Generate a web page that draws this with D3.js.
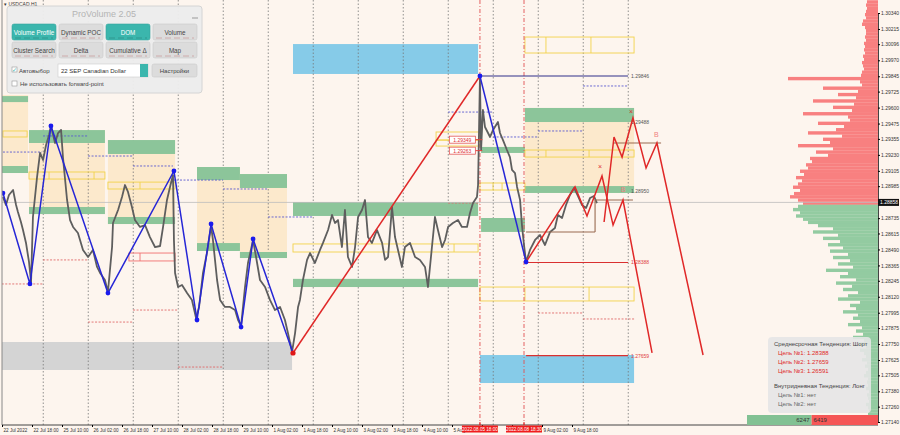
<!DOCTYPE html>
<html><head><meta charset="utf-8">
<script src="https://cdn.jsdelivr.net/npm/d3@7"></script>
<style>
body{margin:0;background:#fdf5ee;}
svg{display:block;font-family:"Liberation Sans",Arial,sans-serif;}
</style></head><body>
<svg id="c" width="900" height="435"></svg>
<script>
// ---------- DATA ----------
const yTicks = [1.30340,1.30215,1.30096,1.29970,1.29845,1.29725,1.29600,1.29475,1.29355,1.29230,1.29105,1.28985,1.28735,1.28615,1.28490,1.28365,1.28245,1.28120,1.27995,1.27875,1.27750,1.27625,1.27505,1.27380,1.27260,1.27140];
const xTickBars = [0,16,32,48,64,80,96,112,128,144,160,176,192,208,224,240,256,272,288,304];
const xTickLabels = ["22 Jul 2022","22 Jul 18:00","25 Jul 10:00","26 Jul 02:00","26 Jul 18:00","27 Jul 10:00","28 Jul 02:00","28 Jul 18:00","29 Jul 10:00","1 Aug 02:00","1 Aug 18:00","2 Aug 10:00","3 Aug 02:00","3 Aug 18:00","4 Aug 10:00","5 Aug 02:00","","","9 Aug 02:00","9 Aug 18:00"];
const dayLineBars = [22,46,70,94,118,142,166,190,214,238,262,286,310,334];
const eventBars = [254.9,278.4];
const eventLabels = ["2022.08.05 18:00","2022.08.08 18:30"];
const currentPrice = 1.28858;

const pricePath = [
[0.5,1.28900],[2.1,1.28838],[3.7,1.28916],[5.9,1.28955],[7.5,1.28838],[8.5,1.28783],[10.1,1.28705],[11.2,1.28642],[12.8,1.28541],[14.4,1.28392],[15.5,1.28235],[16.5,1.28744],[18.7,1.29057],[20.3,1.29245],[21.9,1.29190],[23.5,1.29307],[25.1,1.29386],[26.1,1.29456],[28.3,1.29323],[29.9,1.29401],[31.5,1.29425],[32.5,1.29213],[34.7,1.28877],[36.3,1.28720],[37.9,1.28666],[40.5,1.28619],[43.2,1.28486],[45.9,1.28431],[48.5,1.28486],[50.7,1.28353],[52.3,1.28306],[54.9,1.28251],[56.5,1.28157],[58.7,1.28509],[59.2,1.28697],[61.9,1.28799],[64.0,1.28900],[65.6,1.28994],[67.2,1.28940],[69.3,1.28822],[70.9,1.28720],[73.6,1.28666],[76.3,1.28681],[78.9,1.28587],[81.6,1.28509],[84.3,1.28517],[85.9,1.28666],[88.0,1.28877],[89.6,1.28979],[91.2,1.29072],[91.7,1.28564],[92.3,1.28306],[93.9,1.28196],[96.0,1.28212],[98.7,1.28149],[101.3,1.28095],[103.5,1.27954],[105.1,1.28040],[107.2,1.28306],[109.3,1.28462],[111.5,1.28673],[112.5,1.28564],[114.7,1.28251],[116.3,1.28095],[118.9,1.28040],[121.6,1.28040],[124.3,1.28016],[125.9,1.27938],[127.5,1.27891],[129.6,1.28196],[131.2,1.28384],[133.9,1.28564],[135.5,1.28431],[137.6,1.28251],[140.3,1.28196],[142.9,1.28095],[145.6,1.28016],[148.3,1.28040],[150.9,1.27938],[152.5,1.27836],[154.7,1.27688],[156.3,1.27836],[157.9,1.28040],[158.9,1.28095],[160.5,1.28251],[162.7,1.28408],[164.3,1.28462],[166.9,1.28384],[169.6,1.28486],[171.2,1.28541],[173.9,1.28642],[176.0,1.28760],[177.6,1.28697],[179.2,1.28720],[181.3,1.28509],[182.9,1.28799],[184.5,1.28431],[186.7,1.28353],[188.3,1.28509],[189.9,1.28744],[192.0,1.28799],[193.6,1.28877],[195.2,1.28587],[197.3,1.28541],[200.0,1.28642],[202.7,1.28541],[204.3,1.28408],[205.9,1.28431],[208.0,1.28822],[209.6,1.28587],[211.2,1.28486],[213.3,1.28353],[214.9,1.28509],[217.6,1.28541],[220.3,1.28431],[222.9,1.28408],[225.6,1.28353],[227.2,1.28196],[229.3,1.28509],[230.9,1.28744],[232.5,1.28642],[234.7,1.28509],[236.3,1.28564],[237.9,1.28666],[240.5,1.28697],[243.2,1.28720],[245.3,1.28666],[248.0,1.28666],[249.6,1.28775],[251.2,1.28853],[253.3,1.28900],[253.9,1.28994],[254.9,1.29831],[255.5,1.29268],[256.5,1.29581],[257.6,1.29448],[260.3,1.29370],[261.9,1.29425],[264.5,1.29487],[265.6,1.29401],[267.2,1.29346],[269.3,1.29268],[270.9,1.29213],[272.0,1.29112],[273.6,1.29088],[274.7,1.28979],[276.3,1.28877],[277.3,1.28681],[278.4,1.28525],[279.5,1.28392],[281.6,1.28486],[284.3,1.28564],[286.9,1.28603],[289.6,1.28525],[292.3,1.28627],[294.9,1.28658],[296.5,1.28760],[298.7,1.28736],[300.8,1.28838],[302.9,1.28916],[305.1,1.28971],[307.2,1.28908],[309.3,1.28838],[311.5,1.28814],[313.6,1.28892],[315.7,1.28908],[317.3,1.28853]
];

const blueZigzag = [[0.5,1.28931],[14.9,1.28220],[26.1,1.29456],[56.5,1.28149],[91.7,1.29104],[104.0,1.27938],[111.5,1.28689],[127.5,1.27883],[133.9,1.28572],[155.2,1.27680]];
const redTrend = [[155.2,1.27680],[254.9,1.29847]];
const blueDrop = [[254.9,1.29847],[279.5,1.28392]];
const forecastA = [[279.5,1.28392],[305.6,1.28979],[312.0,1.28752],[320.0,1.29065],[325.9,1.28681],[331.2,1.28877],[346.7,1.27680]];
const forecastB = [[321.1,1.28705],[326.4,1.29370],[330.7,1.29213],[336.5,1.29519],[343.5,1.29127],[349.3,1.29323],[373.9,1.27664]];
const crossMarks = [[319.0,1.29136],[335.5,1.29565]];
const bMarks = [[349.0,1.29370],[331.2,1.28940]];

// zones: [barStart, barEnd, priceHigh, priceLow]
const orangeZones = [[-2,13.9,1.29698,1.29096],[14.4,54.9,1.29424,1.28767],[56.5,92.3,1.29346,1.28689],[104,126.9,1.29135,1.28478],[126.9,152,1.29080,1.28423],[278.9,337.1,1.29597,1.28932]];
const greenZones = [[-2,13.9,1.29690,1.29643],[-2,13.9,1.29143,1.29088],[14.4,54.9,1.29424,1.29323],[14.4,54.9,1.28822,1.28767],[56.5,92.3,1.29346,1.29237],[56.5,92.3,1.28744,1.28689],[104,126.9,1.29135,1.29033],[104,126.9,1.28540,1.28478],[126.9,152,1.29080,1.28971],[126.9,152,1.28470,1.28423],[155.2,253.9,1.28861,1.28752],[155.2,253.9,1.28260,1.28196],[255.5,278.9,1.29292,1.29245],[255.5,278.9,1.28736,1.28627],[278.9,337.1,1.29597,1.29487],[278.9,337.1,1.28986,1.28932]];
const blueZones = [[155.2,253.9,1.30097,1.29863],[254.9,337.1,1.27664,1.27445]];
const grayZones = [[-2,154.7,1.27766,1.27547]];
// outline boxes: [barStart, barEnd, priceHigh, priceLow, dividers]
const yellowBoxes = [[0.5,13.4,1.29417,1.29370,[]],[14.4,54.9,1.29096,1.29041,[25.1,49.1]],[56.5,92.3,1.29017,1.28963,[73.6]],[155.2,253.9,1.28533,1.28470,[241.1]],[231.5,254.9,1.29409,1.29346,[]],[231.5,254.9,1.29346,1.29299,[]],[254.9,278.9,1.29010,1.28955,[261.9,266.7]],[278.9,337.1,1.29268,1.29213,[290.1,313.1]],[278.9,337.1,1.30152,1.30027,[290.1,314.1]],[254.9,337.1,1.28196,1.28087,[278.9,313.1]]];
const redBoxes = [[67.7,92.3,1.28462,1.28400,[73.6]]];
// dotted level lines: [barStart, barEnd, price]
const blueDotted = [[21.9,45.9,1.29378],[0.5,21.3,1.29252],[45.9,69.9,1.29221],[69.9,91.2,1.29143],[91.2,117.9,1.29033],[117.9,141.9,1.28963],[141.9,165.9,1.28744],[237.9,261.9,1.29565],[261.9,285.9,1.29370],[285.9,309.9,1.29417],[309.9,333.9,1.29769]];
const redDotted = [[-2,21.9,1.28220],[21.9,45.9,1.28408],[45.9,69.9,1.27922],[69.9,93.9,1.28016],[93.9,117.9,1.27570],[237.9,254.9,1.28853],[285.9,309.9,1.27993],[309.9,337.1,1.27946]];
// solid levels: [barStart, barEnd, price, label, kind]
const levelLines = [[254.9,333.9,1.29847,"1.29846","navy"],[279.5,333.9,1.28388,"1.28388","red"],[279.5,333.9,1.27659,"1.27659","red"]];
const levelTags = [[1.29487,"1.29488"],[1.28950,"1.28950"]];
const brownLines = [[326.4,351.5,1.29323],[316.3,336.5,1.28877],[279.5,316.3,1.28627]];
const spikeTags = [[1.29349,"1.29349"],[1.29263,"1.29263"]];

// volume profile
const profileTop = 1.30440, profileStep = 0.00025;
const profileVol = [
110,120,110,120,130,120,150,160,130,120,
120,130,120,140,130,140,130,150,140,160,
150,140,160,170,900,180,160,550,200,400,
220,650,240,450,260,750,300,280,600,340,
420,700,360,550,480,800,450,620,500,680,
660,720,700,780,740,820,760,800,850,780,
840,880,800,750,
800,850,780,820,750,700,
600,450,650,400,550,380,500,350,480,300,
450,280,400,250,520,300,380,220,420,260,
350,200,300,400,180,280,220,350,200,250,
180,300,160,220,150,250,140,200,120,180,
140,120,160,110,130,100,120,140,100,110,
100,120,90,110,100,90,120,100,90,100];
const buyTotal = 6247, sellTotal = 6419;

const infoLines = [["Среднесрочная Тенденция: Шорт","#444",0],["Цель №1: 1.28388","#e02828",1],["Цель №2: 1.27659","#e02828",1],["Цель №3: 1.26591","#e02828",1],["Внутридневная Тенденция: Лонг","#444",0],["Цель №1: нет","#666",1],["Цель №2: нет","#666",1]];
const panelButtons = [["Volume Profile",1],["Dynamic POC",0],["DOM",1],["Volume",0],["Cluster Search",0],["Delta",0],["Cumulative Δ",0],["Map",0]];

// ---------- SCALES ----------
const svg = d3.select("#c");
const x = d3.scaleLinear().domain([0,100]).range([2,189.5]);
const y = d3.scaleLinear().domain([1.27140,1.30340]).range([422,13]);
const R = 878, B = 425;

svg.append("rect").attr("width",900).attr("height",435).attr("fill","#fdf5ee");
svg.append("defs").append("clipPath").attr("id","pc").append("rect").attr("x",2).attr("y",0).attr("width",R-2).attr("height",B);
const g = svg.append("g").attr("clip-path","url(#pc)");

function zone(arr, fill, op){
  g.selectAll(null).data(arr).enter().append("rect")
   .attr("x",d=>x(d[0])).attr("width",d=>x(d[1])-x(d[0]))
   .attr("y",d=>y(d[2])).attr("height",d=>y(d[3])-y(d[2]))
   .attr("fill",fill).attr("opacity",op||1);
}
zone(orangeZones,"#fce6c6",0.85);
zone(grayZones,"#d4d4d4");
zone(blueZones,"#86cbe8");

// grid
g.selectAll(null).data(dayLineBars).enter().append("line")
 .attr("x1",d=>x(d)).attr("x2",d=>x(d)).attr("y1",0).attr("y2",B)
 .attr("stroke","#777").attr("stroke-width",0.8).attr("stroke-dasharray","1.5,2");

zone(greenZones,"#8cc59a");

function boxes(arr, col){
  arr.forEach(d=>{
    g.append("rect").attr("x",x(d[0])).attr("width",x(d[1])-x(d[0]))
     .attr("y",y(d[2])).attr("height",y(d[3])-y(d[2]))
     .attr("fill","none").attr("stroke",col).attr("stroke-width",0.9);
    d[4].forEach(v=>g.append("line").attr("x1",x(v)).attr("x2",x(v)).attr("y1",y(d[2])).attr("y2",y(d[3])).attr("stroke",col).attr("stroke-width",0.9));
  });
}
boxes(yellowBoxes,"#f2d24a");
boxes(redBoxes,"#f07070");

function dotted(arr,col){
  g.selectAll(null).data(arr).enter().append("line")
   .attr("x1",d=>x(d[0])).attr("x2",d=>x(d[1])).attr("y1",d=>y(d[2])).attr("y2",d=>y(d[2]))
   .attr("stroke",col).attr("stroke-width",0.9).attr("stroke-dasharray","2,1.5");
}
dotted(blueDotted,"#5a5ad0");
dotted(redDotted,"#e06a6a");

// volume profile
const vx = d3.scaleLinear().domain([0,1000]).range([0,100]);
g.selectAll(null).data(profileVol).enter().append("rect")
 .attr("x",d=>R-vx(d)).attr("width",d=>vx(d))
 .attr("y",(d,i)=>y(profileTop-profileStep*i)).attr("height",(d,i)=>y(profileTop-profileStep*(i+1))-y(profileTop-profileStep*i)+0.2)
 .attr("fill",(d,i)=> (profileTop-profileStep*i) > currentPrice ? "#f88080" : "#93cba1");

// current price line
g.append("line").attr("x1",2).attr("x2",R).attr("y1",y(currentPrice)).attr("y2",y(currentPrice)).attr("stroke","#bdbdbd").attr("stroke-width",0.8);

// event vertical lines
g.selectAll(null).data(eventBars).enter().append("line")
 .attr("x1",d=>x(d)).attr("x2",d=>x(d)).attr("y1",0).attr("y2",B)
 .attr("stroke","#e05050").attr("stroke-width",0.9).attr("stroke-dasharray","4,2,1,2");

// price
const line = d3.line().x(d=>x(d[0])).y(d=>y(d[1]));
g.append("path").attr("d",line(pricePath)).attr("fill","none").attr("stroke","#5e5e5e").attr("stroke-width",1.8).attr("stroke-linejoin","round");

// brown
brownLines.forEach(d=>g.append("line").attr("x1",x(d[0])).attr("x2",x(d[1])).attr("y1",y(d[2])).attr("y2",y(d[2])).attr("stroke","#9a6a50").attr("stroke-width",1.1));
g.append("line").attr("x1",x(brownLines[1][0])).attr("x2",x(brownLines[1][0])).attr("y1",y(brownLines[1][2])).attr("y2",y(brownLines[2][2])).attr("stroke","#9a6a50").attr("stroke-width",1.1);

// levels
levelLines.forEach(d=>{
  g.append("line").attr("x1",x(d[0])).attr("x2",x(d[1])).attr("y1",y(d[2])).attr("y2",y(d[2]))
   .attr("stroke",d[4]==="navy"?"#30308a":"#d93030").attr("stroke-width",1.1);
  g.append("text").attr("x",x(d[1])+3).attr("y",y(d[2])+2).attr("font-size",5).attr("fill",d[4]==="navy"?"#555":"#e04040").text(d[3]);
});
levelTags.forEach(d=>g.append("text").attr("x",x(333.9)+3).attr("y",y(d[0])+2).attr("font-size",5).attr("fill","#555").text(d[1]));

// zigzags
g.append("path").attr("d",line(blueZigzag)).attr("fill","none").attr("stroke","#2626d6").attr("stroke-width",1.5);
g.append("path").attr("d",line(redTrend)).attr("fill","none").attr("stroke","#e02828").attr("stroke-width",1.5);
g.append("path").attr("d",line(blueDrop)).attr("fill","none").attr("stroke","#2626d6").attr("stroke-width",1.5);
g.append("path").attr("d",line(forecastA)).attr("fill","none").attr("stroke","#e02828").attr("stroke-width",1.5);
g.append("path").attr("d",line(forecastB)).attr("fill","none").attr("stroke","#e02828").attr("stroke-width",1.5);
g.selectAll(null).data(blueZigzag.slice(0,-1).concat([blueDrop[0],blueDrop[1]])).enter().append("circle")
 .attr("cx",d=>x(d[0])).attr("cy",d=>y(d[1])).attr("r",2.4).attr("fill","#1a1aee");
g.append("circle").attr("cx",x(redTrend[0][0])).attr("cy",y(redTrend[0][1])).attr("r",2.6).attr("fill","#e01818");
crossMarks.forEach(d=>g.append("text").attr("x",x(d[0])).attr("y",y(d[1])+2).attr("text-anchor","middle").attr("font-size",7).attr("fill","#e03030").text("×"));
bMarks.forEach(d=>g.append("text").attr("x",x(d[0])).attr("y",y(d[1])).attr("text-anchor","middle").attr("font-size",7).attr("fill","#f08080").text("B"));

// spike tags
spikeTags.forEach(d=>{
  const cx = x(245.5), cy = y(d[0]);
  g.append("line").attr("x1",cx+13).attr("x2",cx+20).attr("y1",cy).attr("y2",cy).attr("stroke","#e04040").attr("stroke-width",1);
  g.append("rect").attr("x",cx-13).attr("y",cy-3.5).attr("width",26).attr("height",7).attr("fill","#fff").attr("stroke","#e04040").attr("stroke-width",0.7);
  g.append("text").attr("x",cx).attr("y",cy+2).attr("text-anchor","middle").attr("font-size",5).attr("fill","#e03030").text(d[1]);
});

// axes
svg.append("line").attr("x1",2).attr("x2",2).attr("y1",0).attr("y2",B).attr("stroke","#888").attr("stroke-width",1);
const yAxis = svg.append("g").attr("transform",`translate(${R},0)`)
 .call(d3.axisRight(y).tickValues(yTicks).tickFormat(d3.format(".5f")).tickSize(2));
yAxis.select(".domain").attr("stroke","#444");
yAxis.selectAll("text").attr("font-size",5).attr("fill","#333").attr("x",3);
const xAxis = svg.append("g").attr("transform",`translate(0,${B})`)
 .call(d3.axisBottom(x).tickValues(xTickBars).tickFormat((d,i)=>xTickLabels[i]).tickSize(2));
xAxis.select(".domain").attr("stroke","#444").attr("d",`M2,0H${R}`);
xAxis.selectAll("text").attr("font-size",4.6).attr("fill","#333").attr("text-anchor","start").attr("x",1).attr("y",4);

// current price tag
svg.append("rect").attr("x",R).attr("y",y(currentPrice)-3.5).attr("width",21).attr("height",7).attr("fill","#111");
svg.append("text").attr("x",R+2).attr("y",y(currentPrice)+2).attr("font-size",5).attr("fill","#fff").text(currentPrice.toFixed(5));

// event labels
eventBars.forEach((b,i)=>{
  svg.append("line").attr("x1",x(b)).attr("x2",x(b)).attr("y1",B-3).attr("y2",B).attr("stroke","#e02020");
  svg.append("rect").attr("x",x(b)-18).attr("y",B+0.5).attr("width",36).attr("height",7).attr("fill","#f01c1c");
  svg.append("text").attr("x",x(b)).attr("y",B+5.6).attr("text-anchor","middle").attr("font-size",4.6).attr("fill","#fff").text(eventLabels[i]);
});

// totals bar
const tw = d3.scaleLinear().domain([0,buyTotal+sellTotal]).range([0,131]);
svg.append("rect").attr("x",R-tw(sellTotal)-tw(buyTotal)).attr("y",415).attr("width",tw(buyTotal)).attr("height",10).attr("fill","#82c193");
svg.append("rect").attr("x",R-tw(sellTotal)).attr("y",415).attr("width",tw(sellTotal)).attr("height",10).attr("fill","#f55656");
svg.append("text").attr("x",R-tw(sellTotal)-2).attr("y",422).attr("text-anchor","end").attr("font-size",6).attr("fill","#333").text(buyTotal);
svg.append("text").attr("x",R-tw(sellTotal)+2).attr("y",422).attr("font-size",6).attr("fill","#333").text(sellTotal);

// info box
svg.append("rect").attr("x",768).attr("y",337).attr("width",103).attr("height",76).attr("rx",4).attr("fill","#e6e6e6").attr("opacity",0.9);
const infoY = [346,355,364,373,388,397,406];
infoLines.forEach((d,i)=>svg.append("text").attr("x",d[2]?778:774).attr("y",infoY[i]).attr("font-size",6).attr("fill",d[1]).text(d[0]));

// top-left label
svg.append("text").attr("x",4).attr("y",6).attr("font-size",5).attr("fill","#333").text("▾ USDCAD,H1");

// panel
const p = svg.append("g");
p.append("rect").attr("x",7).attr("y",6).attr("width",195).attr("height",87).attr("rx",3).attr("fill","#ededed").attr("stroke","#d4d4d4").attr("opacity",0.97);
p.append("text").attr("x",104).attr("y",17).attr("text-anchor","middle").attr("font-size",9).attr("fill","#b4b4b4").text("ProVolume 2.05");
p.append("line").attr("x1",192).attr("x2",198).attr("y1",18).attr("y2",18).attr("stroke","#999");
const bx = [12,59,106,153], bw = 44;
panelButtons.forEach((d,i)=>{
  const cx = bx[i%4], cy = i<4?24:42;
  p.append("rect").attr("x",cx).attr("y",cy).attr("width",bw).attr("height",16).attr("rx",2)
   .attr("fill",d[1]?"#3bb6ad":"#dcdcdc").attr("stroke",d[1]?"#35a59d":"#cacaca").attr("stroke-width",0.6);
  p.append("text").attr("x",cx+bw/2).attr("y",cy+10.5).attr("text-anchor","middle").attr("font-size",6.3)
   .attr("fill",d[1]?"#fff":"#444").text(d[0]);
  p.append("line").attr("x1",cx+3).attr("x2",cx+bw-3).attr("y1",cy+14).attr("y2",cy+14).attr("stroke",d[1]?"#2e8f88":"#c9a0a0").attr("stroke-width",0.8).attr("stroke-dasharray","6,3");
});
p.append("rect").attr("x",12).attr("y",67).attr("width",5).attr("height",5).attr("fill","#fff").attr("stroke","#999").attr("stroke-width",0.6);
p.append("text").attr("x",12).attr("y",72).attr("font-size",6).attr("fill","#3bb6ad").text("✓");
p.append("text").attr("x",19).attr("y",73).attr("font-size",6).attr("fill","#444").text("Автовыбор");
p.append("rect").attr("x",58).attr("y",64).attr("width",90).attr("height",13).attr("fill","#fff").attr("stroke","#ccc").attr("stroke-width",0.6);
p.append("rect").attr("x",140).attr("y",64).attr("width",8).attr("height",13).attr("fill","#3bb6ad");
p.append("text").attr("x",61).attr("y",73).attr("font-size",6).attr("fill","#333").text("22 SEP Canadian Dollar");
p.append("rect").attr("x",152).attr("y",64).attr("width",45).attr("height",13).attr("rx",2).attr("fill","#dcdcdc").attr("stroke","#cacaca").attr("stroke-width",0.6);
p.append("text").attr("x",174.5).attr("y",73).attr("text-anchor","middle").attr("font-size",6).attr("fill","#444").text("Настройки");
p.append("rect").attr("x",12).attr("y",81).attr("width",5).attr("height",5).attr("fill","#fff").attr("stroke","#999").attr("stroke-width",0.6);
p.append("text").attr("x",20).attr("y",86).attr("font-size",6).attr("fill","#444").text("Не использовать forward-point");
</script>
</body></html>
